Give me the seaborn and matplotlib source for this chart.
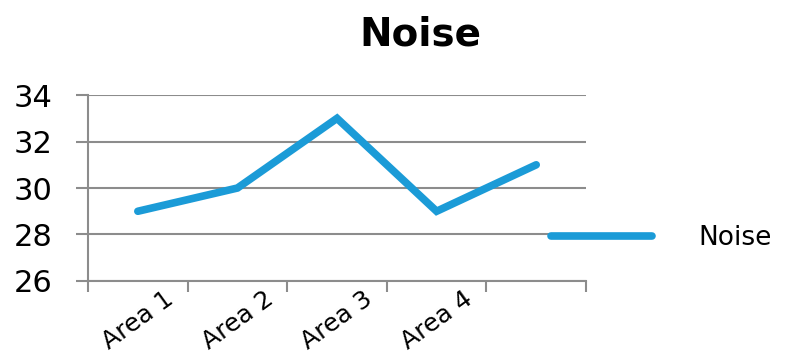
import matplotlib
matplotlib.use("Agg")
import matplotlib.pyplot as plt
import seaborn as sns
import pandas as pd
import numpy as np

categories = ["Area 1", "Area 2", "Area 3", "Area 4", ""]
values = [29, 30, 33, 29, 31]
series_name = "Noise"
y_ticks = [26, 28, 30, 32, 34]

sns.set_theme(style="white")
plt.rcParams['font.family'] = ['DejaVu Sans']
plt.rcParams['text.color'] = 'black'
plt.rcParams['xtick.color'] = 'black'
plt.rcParams['ytick.color'] = 'black'

df = pd.DataFrame({"pos": np.arange(len(categories)), "value": values, "series": series_name})

fig = plt.figure(figsize=(7.96, 3.63), dpi=100)
ax = fig.add_axes([0.1106, 0.226, 0.6256, 0.512])

blue = "#1B9BD7"
grid_c = "#8C8C8C"
sns.lineplot(data=df, x="pos", y="value", hue="series", palette=[blue],
             linewidth=5.5, ax=ax, legend=True, solid_capstyle="round", solid_joinstyle="miter")

ax.set_xlim(-0.5, len(categories) - 0.5)
ax.set_ylim(26, 34)
ax.set_yticks(y_ticks)
ax.set_yticklabels([str(t) for t in y_ticks], fontsize=22)
ax.yaxis.grid(True, color=grid_c, linewidth=1.5)
ax.set_axisbelow(True)

ax.set_xticks(np.arange(len(categories) + 1) - 0.5)
ax.set_xticklabels([])
ax.set_xticks(np.arange(len(categories)), minor=True)
ax.set_xticklabels(categories, minor=True, rotation=36, ha="center", va="top", fontsize=18)
ax.tick_params(axis="x", which="major", direction="out", length=8, width=1.5, color=grid_c, bottom=True)
ax.tick_params(axis="x", which="minor", length=0, pad=4, bottom=True)
ax.tick_params(axis="y", direction="out", length=8.6, width=1.5, color=grid_c, left=True, pad=17)

for s in ["top", "right"]:
    ax.spines[s].set_visible(False)
for s in ["left", "bottom"]:
    ax.spines[s].set_color(grid_c)
    ax.spines[s].set_linewidth(1.5)

ax.set_xlabel("")
ax.set_ylabel("")

leg = ax.legend(loc="center left", bbox_to_anchor=(0.692, 0.345), bbox_transform=fig.transFigure,
                frameon=False, fontsize=19, handlelength=3.85, handletextpad=1.75,
                borderpad=0, borderaxespad=0)
for h in leg.get_lines():
    h.set_linewidth(5.5)
    h.set_solid_capstyle("round")

fig.text(0.528, 0.905, "Noise", ha="center", va="center", fontsize=28, fontweight="bold")

fig.savefig("out.png", dpi=100)
